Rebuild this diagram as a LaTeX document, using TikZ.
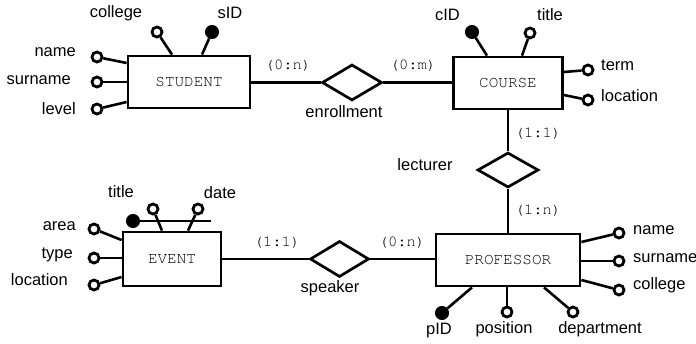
\documentclass[tikz,border=0pt]{standalone}
\usepackage[T1]{fontenc}
\usepackage{fontspec}
\setmainfont{Liberation Sans}
\usetikzlibrary{shapes.geometric}
\newcommand\courierfont{\fontencoding{T1}\fontfamily{pcr}\selectfont}

\begin{document}
\begin{tikzpicture}[x=1pt,y=-1pt,
  entity/.style={draw, line width=2.8pt, minimum height=52pt, inner sep=0pt,
    font=\courierfont\fontsize{16}{18}\selectfont},
  relation/.style={draw, diamond, line width=2.7pt, inner sep=0pt,
    minimum width=60pt, minimum height=36pt},
  attr/.style={circle, draw, line width=2.8pt, fill=white, minimum size=10pt, inner sep=0pt},
  keyattr/.style={circle, draw, line width=1pt, fill=black, minimum size=13pt, inner sep=0pt},
  link/.style={line width=2.6pt},
  lbl/.style={inner sep=0pt, font=\fontsize{16.5}{18}\selectfont, text height=12pt, text depth=3.5pt},
  card/.style={inner sep=0pt, font=\courierfont\fontsize{15.5}{17}\selectfont},
]
\useasboundingbox (0,0) rectangle (696,343);

% entities
\node[entity, minimum width=122pt] (student) at (189,82) {STUDENT};
\node[entity, minimum width=109pt] (course) at (508,83) {COURSE};
\node[entity, minimum width=144pt] (prof) at (508,260) {PROFESSOR};
\node[entity, minimum width=98pt, minimum height=54pt] (event) at (172,259) {EVENT};

% relationships
\node[relation] (enroll) at (352,82.5) {};
\node[relation, minimum width=61pt, minimum height=35pt] (lect) at (508,170) {};
\node[relation, minimum width=59pt] (speak) at (339.5,259) {};

\node[lbl] at (344,113) {enrollment};
\node[lbl] at (425,166) {lecturer};
\node[lbl] at (330,288) {speaker};

% relationship links
\draw[link] (student.east |- enroll) -- (enroll.west);
\draw[link] (enroll.east) -- (course.west |- enroll);
\draw[link] (course.south) -- (lect.north);
\draw[link] (lect.south) -- (prof.north);
\draw[link] (event.east |- speak) -- (speak.west);
\draw[link] (speak.east) -- (prof.west |- speak);

% cardinalities
\node[card] (c1) at (288,65) {(0:n)};
\node[card] (c2) at (413,65) {(0:m)};
\node[card] (c3) at (538,133) {(1:1)};
\node[card] (c4) at (538,210) {(1:n)};
\node[card] (c5) at (277,242) {(1:1)};
\node[card] (c6) at (402,242) {(0:n)};

% STUDENT attributes
\node[attr] (sname) at (97,57) {};
\draw[link] (sname) -- (student.west |- 0,63);
\node[lbl, anchor=east] at (76,52) {name};
\node[attr] (ssur) at (97,82) {};
\draw[link] (ssur) -- (student.west |- 0,82);
\node[lbl, anchor=east] at (71,80) {surname};
\node[attr] (slev) at (97,109) {};
\draw[link] (slev) -- (student.west |- 0,102);
\node[lbl, anchor=east] at (76,110) {level};
\node[attr] (scol) at (157,32) {};
\draw[link] (scol) -- (student.north -| 172,0);
\node[lbl] at (116,13) {college};
\node[keyattr] (sid) at (212,32) {};
\draw[link] (sid) -- (student.north -| 202,0);
\node[lbl] at (230,14.5) {sID};

% COURSE attributes
\node[keyattr] (cid) at (472,32) {};
\draw[link] (cid) -- (course.north -| 487,0);
\node[lbl] at (447.5,16.5) {cID};
\node[attr] (ctitle) at (530,33) {};
\draw[link] (ctitle) -- (course.north -| 522,0);
\node[lbl] at (550,16.5) {title};
\node[attr] (cterm) at (588,70) {};
\draw[link] (cterm) -- (course.east |- 0,72);
\node[lbl, anchor=west] at (601,66.5) {term};
\node[attr] (cloc) at (588,100) {};
\draw[link] (cloc) -- (course.east |- 0,95);
\node[lbl, anchor=west] at (601,97.5) {location};

% PROFESSOR attributes
\node[attr] (pname) at (619,233) {};
\draw[link] (pname) -- (prof.east |- 0,242);
\node[lbl, anchor=west] at (633,230) {name};
\node[attr] (psur) at (619,261) {};
\draw[link] (psur) -- (prof.east |- 0,261);
\node[lbl, anchor=west] at (633,258) {surname};
\node[attr] (pcol) at (619,290) {};
\draw[link] (pcol) -- (prof.east |- 0,280);
\node[lbl, anchor=west] at (633,285) {college};
\node[keyattr] (pid) at (442,313) {};
\draw[link] (pid) -- (prof.south -| 472,0);
\node[lbl] at (439,330) {pID};
\node[attr] (ppos) at (507,312) {};
\draw[link] (ppos) -- (prof.south -| 507,0);
\node[lbl] at (504,329) {position};
\node[attr] (pdep) at (573,312) {};
\draw[link] (pdep) -- (prof.south -| 544,0);
\node[lbl] at (600,329) {department};

% EVENT attributes
\node[attr] (earea) at (94,229) {};
\draw[link] (earea) -- (event.west |- 0,240);
\node[lbl, anchor=east] at (76,226) {area};
\node[attr] (etype) at (94,258) {};
\draw[link] (etype) -- (event.west |- 0,258);
\node[lbl, anchor=east] at (73,254) {type};
\node[attr] (eloc) at (94,285) {};
\draw[link] (eloc) -- (event.west |- 0,277);
\node[lbl, anchor=east] at (68,281) {location};

% composite key of EVENT (title, date)
\node[keyattr] (ekey) at (133,221) {};
\coordinate (ekeyend) at (211,221);
\draw[link] (ekey) -- (ekeyend);
\node[attr] (etitle) at (153,209) {};
\draw[link] (etitle) -- (event.north -| 162,0);
\node[lbl] at (121,193) {title};
\node[attr] (edate) at (198,209) {};
\draw[link] (edate) -- (event.north -| 188,0);
\node[lbl] at (220,194) {date};
\end{tikzpicture}
\end{document}
